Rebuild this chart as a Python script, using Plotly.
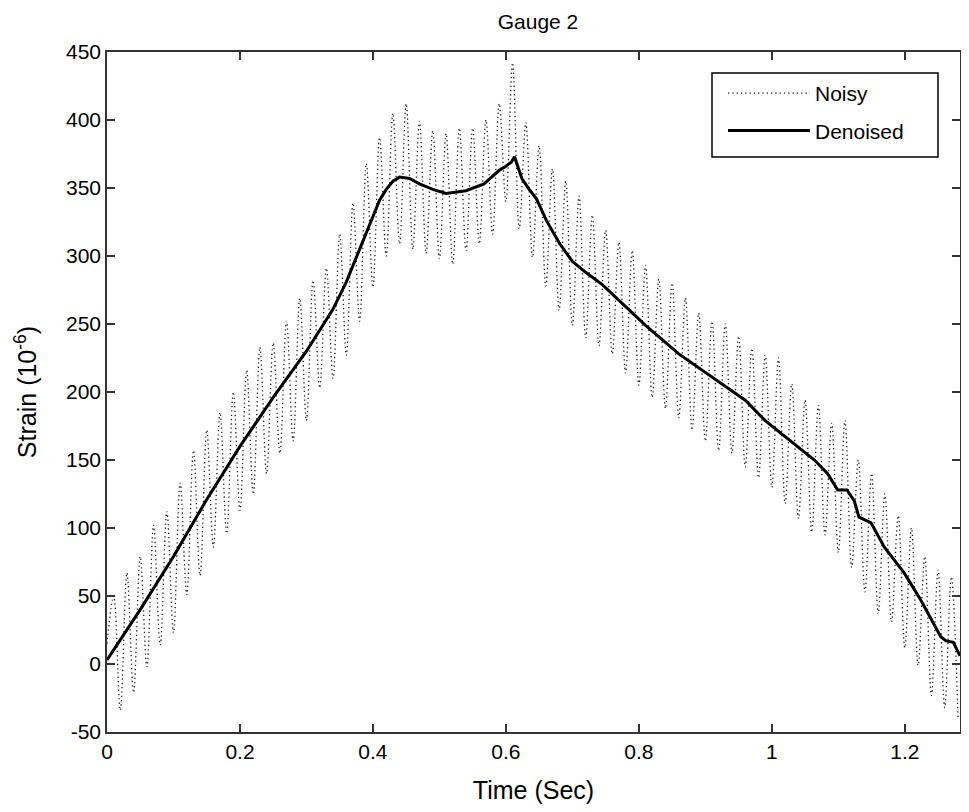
import numpy as np
import plotly.graph_objects as go

noisy_time = [round(i * 0.01, 2) for i in range(129)]
noisy_strain = [
    15, 50, -34, 67, -21, 79, -2, 102, 14, 112,
    23, 133, 51, 157, 65, 172, 86, 185, 96, 200,
    113, 216, 125, 233, 140, 236, 155, 252, 164, 269,
    179, 282, 203, 291, 210, 316, 227, 339, 252, 368,
    277, 387, 300, 405, 309, 412, 305, 399, 302, 392,
    298, 390, 294, 394, 304, 394, 309, 400, 316, 412,
    340, 442, 320, 398, 299, 381, 278, 364, 260, 355,
    249, 344, 240, 330, 234, 319, 228, 310, 214, 304,
    205, 293, 196, 283, 188, 280, 181, 269, 172, 258,
    164, 252, 157, 250, 155, 241, 145, 232, 137, 227,
    130, 225, 118, 206, 107, 194, 97, 190, 95, 177,
    82, 179, 71, 150, 53, 140, 37, 125, 31, 109,
    12, 100, -1, 79, -23, 69, -32, 64, -39,
]

# denoised strain
den_time = [0, 0.05, 0.1, 0.15, 0.2, 0.25, 0.3, 0.32, 0.34, 0.36,
            0.38, 0.39, 0.4, 0.41, 0.42, 0.43, 0.44, 0.455, 0.47, 0.49,
            0.51, 0.54, 0.567, 0.59, 0.6, 0.608, 0.613, 0.618, 0.624, 0.635,
            0.646, 0.661, 0.681, 0.7, 0.72, 0.745, 0.776, 0.81, 0.86, 0.91,
            0.96, 0.99, 1.02, 1.064, 1.084, 1.099, 1.113, 1.124, 1.131, 1.149,
            1.169, 1.199, 1.224, 1.254, 1.262, 1.273, 1.283]
den_strain = [3, 40, 79, 121, 160, 196, 230, 245, 261, 281,
              305, 318, 330, 341, 349, 355, 358, 357, 353, 349,
              346, 348, 353, 363, 366, 369, 373, 366, 357, 349,
              342, 326, 309, 296, 288, 279, 265, 249, 228, 211,
              194, 179, 167, 150, 140, 128, 128, 120, 108, 104,
              86, 67, 47, 20, 17, 16, 6]

x_ticks = [0, 0.2, 0.4, 0.6, 0.8, 1.0, 1.2]
x_labels = ["0", "0.2", "0.4", "0.6", "0.8", "1", "1.2"]
y_ticks = list(range(-50, 451, 50))
y_labels = [str(v) for v in y_ticks]

FONT = "Liberation Sans, Arial, sans-serif"

# the page body has an 8px margin, so the figure is drawn 8px in from the corner;
# keep the figure inside the window so no scrollbars appear
OFF = 8
W, H = 969 - 2 * OFF, 812 - 2 * OFF
L, R, T, B = 107 - OFF, 1, 52 - OFF, 72
PW, PH = W - L - R, H - T - B


def px_x(p):
    return (p - OFF - L) / PW


def px_y(p):
    return 1 - (p - OFF - T) / PH


fig = go.Figure()
fig.add_trace(go.Scatter(
    x=noisy_time, y=noisy_strain, mode="lines", name="Noisy", legendgroup="a",
    line=dict(color="#222222", width=1.3, dash="1.3px,3px", shape="spline"),
))
fig.add_trace(go.Scatter(
    x=den_time, y=den_strain, mode="lines", name="Denoised", legendgroup="b",
    line=dict(color="black", width=3),
))

axis_common = dict(
    showgrid=False, zeroline=False, showline=True, linecolor="#333333",
    linewidth=1.5, mirror="ticks", ticks="inside", ticklen=8,
    tickcolor="#333333", tickwidth=1.5, automargin=False,
    tickfont=dict(family=FONT, size=21, color="black"),
)

# legend frame
fig.add_shape(type="rect", xref="paper", yref="paper",
              x0=px_x(712), x1=px_x(938), y0=px_y(157), y1=px_y(73),
              line=dict(color="black", width=1.5), fillcolor="rgba(0,0,0,0)")

fig.update_layout(
    width=W, height=H,
    margin=dict(l=L, r=R, t=T, b=B),
    paper_bgcolor="white", plot_bgcolor="white",
    font=dict(family=FONT, size=21, color="black"),
    title=dict(text="Gauge 2", x=(538 - OFF) / W, xanchor="center", xref="container",
               y=1 - (22 - OFF) / H, yanchor="middle", yref="container",
               font=dict(family=FONT, size=21, color="black")),
    xaxis=dict(range=[0, 1.283], tickvals=x_ticks, ticktext=x_labels,
               title=dict(text="Time (Sec)", standoff=22), **axis_common),
    yaxis=dict(range=[-50, 450], tickvals=y_ticks, ticktext=y_labels,
               title=dict(text="Strain (10<sup>-6</sup>)", standoff=22),
               **axis_common),
    legend=dict(x=px_x(723), xanchor="left", y=px_y(73), yanchor="top",
                bgcolor="rgba(0,0,0,0)", borderwidth=0,
                itemwidth=82, traceorder="grouped", tracegroupgap=7,
                font=dict(family=FONT, size=21, color="black")),
    showlegend=True,
)

fig.write_html("out.html")
